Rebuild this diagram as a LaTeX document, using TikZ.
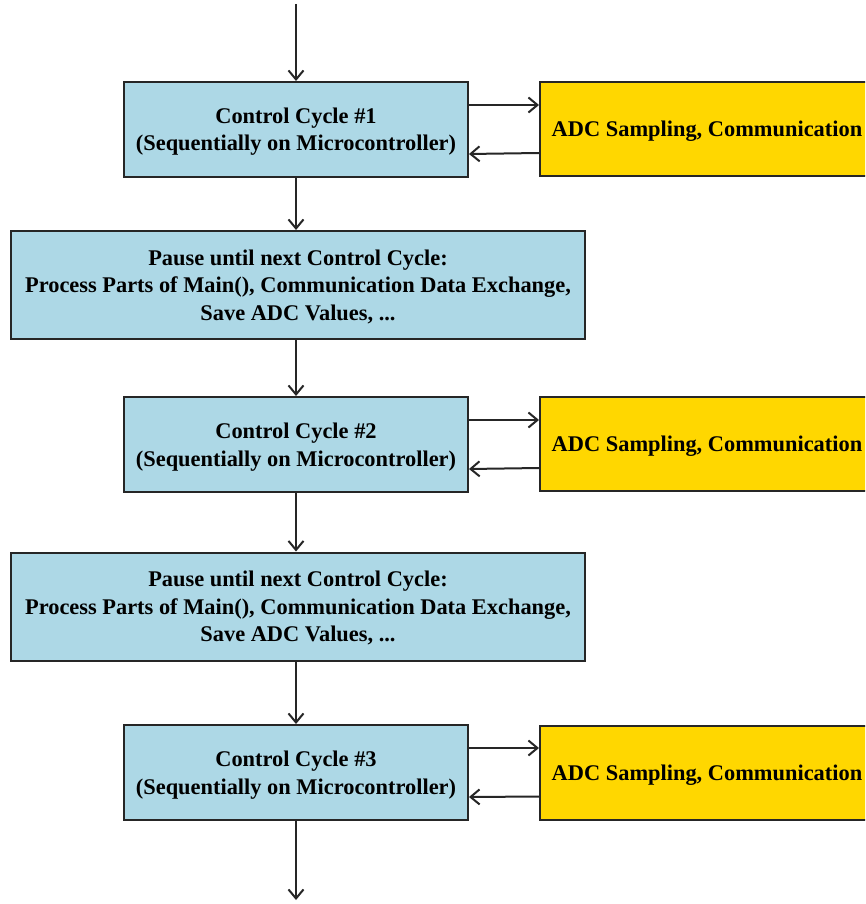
\documentclass[tikz,border=0pt]{standalone}
\usepackage{fontspec}
\setmainfont{Liberation Serif}
\usetikzlibrary{arrows.meta}
\newcommand\tstrut{\rule{0pt}{20.5pt}}
\newcommand\bstrut{\rule[-5pt]{0pt}{5pt}}
\tikzset{
  box/.style={draw=black!85, line width=2pt, align=center, inner sep=0pt,
    font=\fontsize{22.4}{27.5}\selectfont\bfseries},
  cyc/.style={box, fill=lightblue, minimum width=344pt, minimum height=95pt},
  pause/.style={box, fill=lightblue, minimum width=574pt, minimum height=108pt},
  adc/.style={box, fill=adcyellow, minimum width=334pt, minimum height=94pt},
  flow/.style={draw=black!85, line width=2pt, -{Straight Barb[length=9pt,width=15pt,line width=2pt]}}
}
\definecolor{lightblue}{HTML}{ADD8E6}
\definecolor{adcyellow}{HTML}{FFD700}
\begin{document}
\begin{tikzpicture}[x=1pt,y=-1pt]
\useasboundingbox (0,0) rectangle (865,904);
\begin{scope}
\clip (0,0) rectangle (865,904);
\coordinate (top) at (296,4);
\coordinate (bot) at (296,900);
\node[cyc] (c1) at (296,129.5) {\tstrut Control Cycle \#1\\(Sequentially on Microcontroller)\bstrut};
\node[adc] (a1) at (707,129) {\tstrut ADC Sampling, Communication\bstrut};
\node[pause] (p1) at (298,285) {\tstrut Pause until next Control Cycle:\\Process Parts of Main(), Communication Data Exchange,\\Save ADC Values, ...\bstrut};
\node[cyc] (c2) at (296,444.5) {\tstrut Control Cycle \#2\\(Sequentially on Microcontroller)\bstrut};
\node[adc] (a2) at (707,444) {\tstrut ADC Sampling, Communication\bstrut};
\node[pause] (p2) at (298,606.5) {\tstrut Pause until next Control Cycle:\\Process Parts of Main(), Communication Data Exchange,\\Save ADC Values, ...\bstrut};
\node[cyc] (c3) at (296,772.5) {\tstrut Control Cycle \#3\\(Sequentially on Microcontroller)\bstrut};
\node[adc] (a3) at (707,772.5) {\tstrut ADC Sampling, Communication\bstrut};

\draw[flow] (top) -- (c1.north);
\draw[flow] (c1.south) -- (c1.south |- p1.north);
\draw[flow] (c1.south |- p1.south) -- (c2.north);
\draw[flow] (c2.south) -- (c2.south |- p2.north);
\draw[flow] (c2.south |- p2.south) -- (c3.north);
\draw[flow] (c3.south) -- (bot);
\foreach \i in {1,2,3}{
  \draw[flow] ([yshift=-24pt]c\i.north east) -- ([yshift=-24pt]c\i.north east -| a\i.west);
  \draw[flow] ([yshift=24pt]a\i.south west -| a\i.west) -- ([yshift=24pt]c\i.south east);
}
\end{scope}
\end{tikzpicture}
\end{document}
